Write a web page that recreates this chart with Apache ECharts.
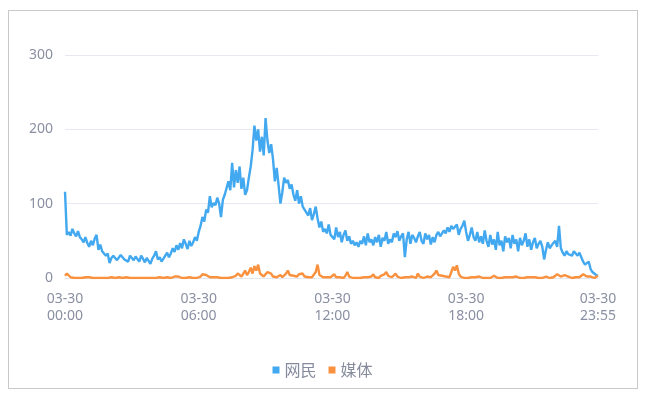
<!DOCTYPE html>
<html>
<head>
<meta charset="utf-8">
<script src="https://cdn.jsdelivr.net/npm/echarts@6/dist/echarts.min.js"></script>
<style>
html,body{margin:0;padding:0;background:#fff;}
#frame{position:absolute;left:8px;top:10px;width:628px;height:377px;border:1px solid #c9c9c9;pointer-events:none;}
#chart{position:absolute;left:0;top:0;width:645px;height:395px;}
</style>
</head>
<body>
<div id="chart"></div>
<div id="frame"></div>
<script>
// Series values, one point every 5 minutes from 03-30 00:00 to 23:55
const netizens = [
 116,58,62,57,66,60,56,63,55,52,48,55,
 47,42,50,44,53,58,38,45,36,38,30,33,
 20,27,30,29,24,26,31,28,25,27,22,30,
 28,24,29,27,22,30,26,21,27,25,19,26,
 30,36,25,28,22,26,30,34,28,33,40,35,
 44,38,47,40,52,46,39,50,43,48,55,50,
 62,70,82,76,92,88,110,95,101,98,108,100,
 82,105,112,110,130,118,155,122,145,128,150,120,
 135,112,118,135,150,172,205,185,200,170,190,165,
 215,185,168,180,160,130,148,125,100,115,135,128,
 132,120,126,112,104,118,100,110,96,92,88,84,
 94,78,86,96,80,68,76,62,66,60,72,58,
 60,52,68,55,62,48,58,64,50,56,46,50,
 44,48,42,50,46,56,44,60,48,52,44,55,
 48,58,42,54,50,62,46,52,48,60,55,63,
 50,56,60,28,52,62,46,58,54,48,56,62,
 50,46,60,52,58,45,55,48,58,62,56,60,
 64,60,68,62,70,66,64,72,58,66,70,77,
 62,50,58,68,55,50,62,48,56,46,64,50,
 42,58,45,52,38,62,44,50,36,56,48,54,
 40,58,46,52,36,54,44,50,60,42,52,38,
 48,54,40,46,50,42,25,38,48,40,44,46,
 50,42,70,40,34,30,36,32,34,30,36,33,
 30,34,28,22,18,20,22,12,8,10,4,3
];
const media = [
 3,6,4,1,1,0,1,0,1,0,0,1,
 0,1,0,0,1,0,0,0,1,0,0,0,
 0,1,0,0,0,1,0,0,0,1,0,0,
 0,0,1,0,0,0,1,0,0,0,1,0,
 0,0,0,1,0,0,0,1,0,0,0,2,
 4,2,1,0,1,0,0,1,0,0,1,0,
 1,2,5,7,4,2,1,0,1,0,1,0,
 0,1,0,1,0,2,1,0,3,6,4,2,
 6,10,4,8,14,6,16,10,18,6,4,2,
 3,8,10,6,2,3,1,2,4,1,2,6,
 10,4,2,3,1,2,5,3,6,2,3,1,
 2,1,3,8,18,4,2,1,0,1,3,1,
 2,5,1,0,1,2,0,3,8,2,1,0,
 1,0,1,0,2,1,0,1,0,2,5,1,
 2,0,3,1,5,8,3,4,1,2,6,2,
 1,0,2,1,0,1,0,2,1,0,6,2,
 1,0,1,2,0,1,3,6,10,4,2,3,
 1,2,4,1,8,15,10,17,6,2,1,0,
 1,0,2,1,0,1,0,2,1,0,1,0,
 1,0,2,3,1,0,1,0,2,1,0,1,
 0,1,0,2,1,0,1,0,2,1,0,1,
 0,1,2,0,1,0,1,2,1,0,2,1,
 3,5,4,2,3,4,3,2,1,0,2,1,
 2,1,3,5,3,2,1,2,1,0,2,3
];
const seriesNames = ['网民', '媒体'];
const datePrefix = '03-30';
const shownTickIndices = [0, 72, 144, 216, 287];
const yTicks = [0, 100, 200, 300];

const categories = [];
for (let h = 0; h < 24; h++) {
  for (let m = 0; m < 60; m += 5) {
    categories.push(datePrefix + '\n' + String(h).padStart(2,'0') + ':' + String(m).padStart(2,'0'));
  }
}

const chart = echarts.init(document.getElementById('chart'));
chart.setOption({
  animation: false,
  color: ['#42a8f0', '#f9913e'],
  grid: {left: 65, right: 47, top: 55, bottom: 117, containLabel: false},
  legend: {
    bottom: 12,
    left: 'center',
    icon: 'rect',
    itemWidth: 7,
    itemHeight: 7,
    itemGap: 12,
    textStyle: {fontSize: 16, color: '#858b9d', fontFamily: 'Noto Sans CJK SC'},
    data: seriesNames
  },
  xAxis: {
    type: 'category',
    boundaryGap: false,
    data: categories,
    axisLine: {lineStyle: {color: '#e3e6f0'}},
    axisTick: {show: false},
    axisLabel: {
      interval: function (i) { return shownTickIndices.indexOf(i) >= 0; },
      color: '#8a90a3',
      fontSize: 14,
      lineHeight: 17,
      margin: 13,
      fontFamily: 'Noto Sans'
    }
  },
  yAxis: {
    type: 'value',
    min: yTicks[0],
    max: yTicks[yTicks.length - 1],
    interval: 100,
    axisLine: {show: false},
    axisTick: {show: false},
    splitLine: {lineStyle: {color: '#e6e9f4'}},
    axisLabel: {color: '#8a90a3', fontSize: 14, margin: 12, fontFamily: 'Noto Sans'}
  },
  series: [
    {name: seriesNames[0], type: 'line', data: netizens, showSymbol: false, lineStyle: {width: 2.4}},
    {name: seriesNames[1], type: 'line', data: media, showSymbol: false, lineStyle: {width: 2.4}}
  ]
});
</script>
</body>
</html>
